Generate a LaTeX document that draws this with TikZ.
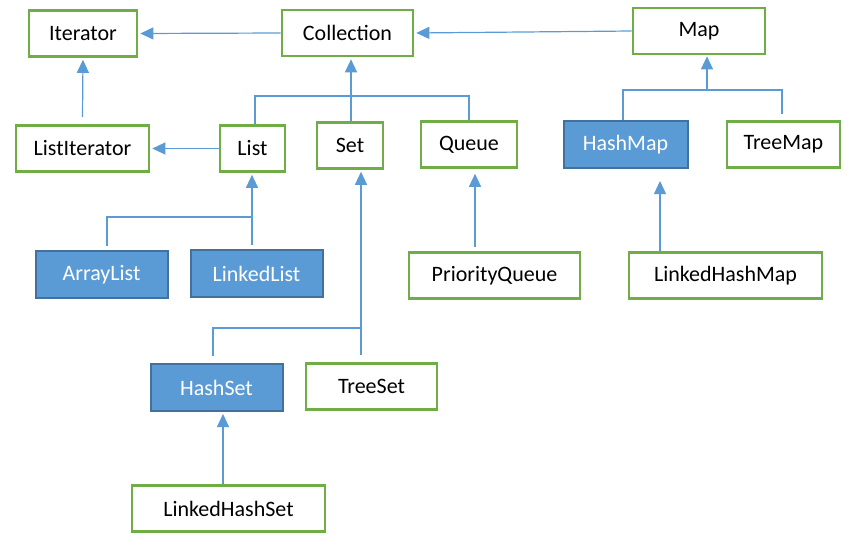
\documentclass[tikz,border=0pt]{standalone}
\usepackage{fontspec}
\setmainfont{Carlito}
\usetikzlibrary{arrows.meta}
\definecolor{boxgreen}{HTML}{70AD47}
\definecolor{boxblue}{HTML}{5B9BD5}
\definecolor{boxedge}{HTML}{41719C}
\definecolor{linkblue}{HTML}{5B9BD5}
\tikzstyle{iface} = [rectangle, minimum height=46pt, inner sep=0pt, text centered, draw=boxgreen, line width=2.6pt, fill=white, font=\fontsize{22}{26}\selectfont]
\tikzstyle{impl} = [rectangle, minimum height=47pt, inner sep=0pt, text centered, draw=boxedge, line width=2pt, fill=boxblue, text=white, font=\fontsize{22}{26}\selectfont]
\tikzstyle{link} = [linkblue, line width=1.2pt]
\tikzstyle{arrow} = [link, -{Triangle[length=13pt,width=12pt]}, shorten >=2pt]

\begin{document}
\begin{tikzpicture}[x=1pt, y=-1pt]
\useasboundingbox (0,0) rectangle (865,549);

% top row
\node (iter) [iface, minimum width=108pt] at (83,33.5) {Iterator};
\node (coll) [iface, minimum width=131pt] at (347.5,33) {Collection};
\node (map) [iface, minimum width=132pt] at (699,31) {Map};

% second row
\node (listit) [iface, minimum width=133pt] at (82.5,148.5) {ListIterator};
\node (list) [iface, minimum width=65pt] at (252.5,148.5) {List};
\node (set) [iface, minimum width=66pt] at (350,145.5) {Set};
\node (queue) [iface, minimum width=96pt] at (469,144.5) {Queue};
\node (hmap) [impl, minimum width=124pt] at (625.5,144.5) {HashMap};
\node (tmap) [iface, minimum width=113pt] at (783.5,144.5) {TreeMap};

% third row
\node (alist) [impl, minimum width=132pt] at (101.5,274.5) {ArrayList};
\node (llist) [impl, minimum width=132pt] at (256.5,273.5) {LinkedList};
\node (pqueue) [iface, minimum width=171pt] at (494.5,275.5) {PriorityQueue};
\node (lhmap) [iface, minimum width=193pt] at (725.5,275.5) {LinkedHashMap};

% sets
\node (hset) [impl, minimum width=132pt] at (216.5,387.5) {HashSet};
\node (tset) [iface, minimum width=131pt] at (371.5,386.5) {TreeSet};
\node (lhset) [iface, minimum width=193pt] at (228.5,508.5) {LinkedHashSet};

\coordinate (cbar) at (351,96);
\coordinate (lbar) at (252,217);
\coordinate (sbar) at (361,328);
\coordinate (mbar) at (707,90);

\draw [arrow] (coll.west) -- (iter.east);
\draw [arrow] (map.west) -- (coll.east);
\draw [arrow] ([yshift=7pt]listit.north) -- (iter.south);
\draw [arrow] (list.west) -- (listit.east);

\draw [link] ([xshift=2.5pt]list.north) |- (cbar) -| (queue.north);
\draw [arrow] (set.north -| cbar) -- (cbar |- coll.south);

\draw [link] ([xshift=5.5pt,yshift=4pt]alist.north) |- (lbar);
\draw [arrow] ([yshift=4pt]llist.north -| lbar) -- (lbar |- list.south);

\draw [link] ([xshift=-3.5pt,yshift=7pt]hset.north) |- (sbar);
\draw [arrow] ([yshift=7pt]tset.north -| sbar) -- (sbar |- set.south);
\draw [arrow] ([xshift=-5.5pt]lhset.north) -- ([xshift=-5.5pt]lhset.north |- hset.south);

\draw [arrow, shorten >=5pt] ([xshift=-19.5pt,yshift=4pt]pqueue.north) -- ([xshift=-19.5pt]pqueue.north |- queue.south);
\draw [arrow, shorten >=12pt] ([xshift=-65.5pt]lhmap.north) -- ([xshift=-65.5pt]lhmap.north |- hmap.south);

\draw [link] ([xshift=-2.5pt]hmap.north) |- (mbar) -| ([xshift=-1.5pt,yshift=6pt]tmap.north);
\draw [arrow, shorten >=1pt] (mbar) -- (mbar |- map.south);

\end{tikzpicture}
\end{document}
